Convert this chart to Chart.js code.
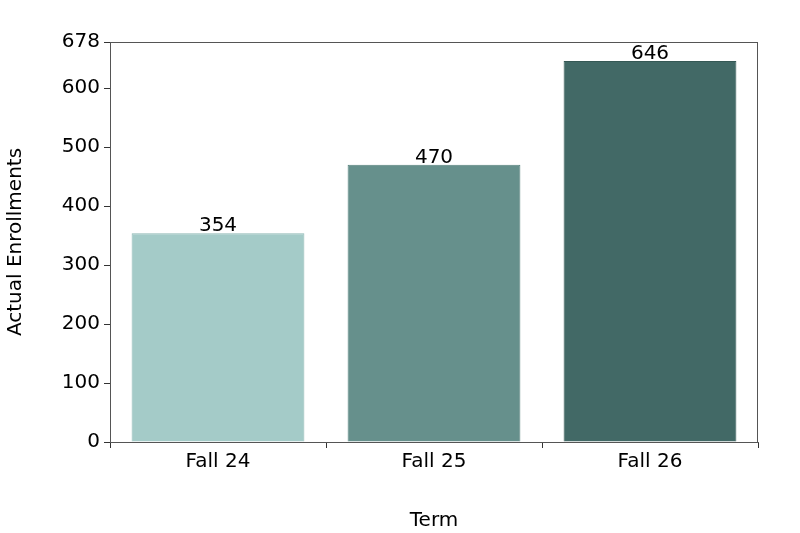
<!DOCTYPE html>
<html>
<head>
<script src="https://cdn.jsdelivr.net/npm/chart.js@4"></script>
<style>body{margin:0;background:#fff}</style>
</head>
<body>
<canvas id="c" width="800" height="533"></canvas>
<script>
const terms = ['Fall 24', 'Fall 25', 'Fall 26'];
const enrollments = [354, 470, 646];
const barColors = ['#a4cbc8', '#66908c', '#426966'];
const edgeColors = ['#8fb8b5', '#55807c', '#355855'];

const font = { family: 'DejaVu Sans', size: 20 };

// value labels above bars + frame around plot area
const extras = {
    id: 'extras',
    afterDatasetsDraw(chart) {
        const ctx = chart.ctx;
        const meta = chart.getDatasetMeta(0);
        ctx.save();
        ctx.fillStyle = '#000';
        ctx.font = '20px DejaVu Sans';
        ctx.textAlign = 'center';
        ctx.textBaseline = 'bottom';
        meta.data.forEach((bar, i) => {
            ctx.fillText(String(enrollments[i]), bar.x, bar.y + 3);
        });
        const a = chart.chartArea;
        ctx.strokeStyle = '#555';
        ctx.lineWidth = 1;
        ctx.strokeRect(a.left + 0.5, a.top + 0.5, a.right - a.left - 1, a.bottom - a.top);
        ctx.restore();
    }
};

new Chart(document.getElementById('c'), {
    type: 'bar',
    data: {
        labels: terms,
        datasets: [{
            data: enrollments,
            backgroundColor: barColors,
            borderColor: edgeColors,
            borderWidth: 1,
            categoryPercentage: 0.8,
            barPercentage: 1
        }]
    },
    options: {
        responsive: false,
        animation: false,
        layout: { padding: { top: 42, right: 42, left: 0, bottom: 0 } },
        plugins: { legend: { display: false }, tooltip: { enabled: false } },
        scales: {
            x: {
                grid: { drawOnChartArea: false, tickLength: 6, color: '#333' },
                border: { color: '#555' },
                ticks: { font, color: '#000', padding: 2 },
                title: { display: true, text: 'Term', font, color: '#000', padding: 0 },
                afterFit(s) { s.height = 91; }
            },
            y: {
                min: 0, max: 678,
                grid: { drawOnChartArea: false, tickLength: 6, color: '#333' },
                border: { color: '#555' },
                ticks: { stepSize: 100, font, color: '#000', padding: 4 },
                title: { display: true, text: 'Actual Enrollments', font, color: '#000', padding: 4 },
                afterFit(s) { s.width = 110; }
            }
        }
    },
    plugins: [extras]
});
</script>
</body>
</html>
